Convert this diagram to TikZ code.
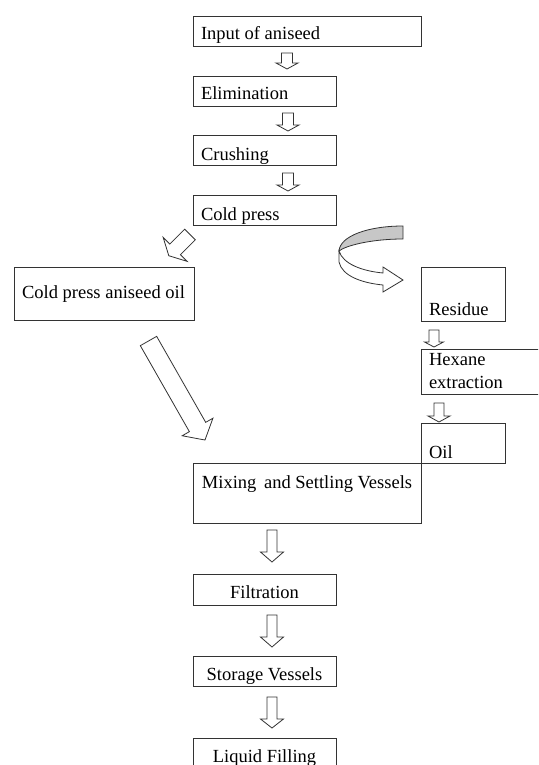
\documentclass[tikz,border=0pt]{standalone}
\usepackage{fontspec}
\setmainfont{Liberation Serif}
\begin{document}
\begin{tikzpicture}[x=1pt,y=-1pt,
  box/.style={draw=black!80, line width=0.9pt, rectangle, anchor=north west, inner sep=0pt, outer sep=0pt},
  txt/.style={font=\fontsize{18.5}{22}\selectfont, inner sep=0pt, outer sep=0pt},
  blk/.style={draw=black!80, line width=0.8pt, fill=white, line join=miter},
  pics/barrow/.style n args={4}{code={
    \draw[blk] (-#1,0) -- (-#1,#3) -- (-#2,#3) -- (0,#4) -- (#2,#3) -- (#1,#3) -- (#1,0) -- cycle;}}
]
\useasboundingbox (0,0) rectangle (538,765);
\clip (0,0) rectangle (538,765);

% main column boxes
\node[box, minimum width=228pt, minimum height=30pt] (input) at (193,16) {};
\node[txt, anchor=base west] (tinput) at (201,40) {Input of aniseed};
\node[box, minimum width=143pt, minimum height=30pt] (elim) at (193,76) {};
\node[txt, anchor=base west] (telim) at (201,100) {Elimination};
\node[box, minimum width=143pt, minimum height=30pt] (crush) at (193,135) {};
\node[txt, anchor=base west] (tcrush) at (201,160) {Crushing};
\node[box, minimum width=143pt, minimum height=30pt] (cold) at (193,195) {};
\node[txt, anchor=base west] (tcold) at (201,220) {Cold press};

% left branch
\node[box, minimum width=180pt, minimum height=53pt] (coldoil) at (14,267) {};
\node[txt, anchor=base] (tcoldoil) at (103.5,298) {Cold press aniseed oil};

% right branch
\node[box, minimum width=84pt, minimum height=54pt] (residue) at (421,267) {};
\node[txt, anchor=base west] (tresidue) at (429,315) {Residue};
\node[box, minimum width=125pt, minimum height=45pt] (hexane) at (421,349) {};
\node[txt, anchor=base west] (thexane) at (429,365) {Hexane};
\node[txt, anchor=base west] (textr) at (429,388) {extraction};
\node[box, minimum width=84pt, minimum height=40pt] (oil) at (421,423) {};
\node[txt, anchor=base west] (toil) at (429,458) {Oil};

% lower column
\node[box, minimum width=228pt, minimum height=60pt] (mix) at (193,463) {};
\node[txt, anchor=base] (tmix) at (307,488) {Mixing\, and Settling Vessels};
\node[box, minimum width=143pt, minimum height=31pt] (filt) at (193,574) {};
\node[txt, anchor=base] (tfilt) at (264.5,598) {Filtration};
\node[box, minimum width=143pt, minimum height=30pt] (store) at (193,656) {};
\node[txt, anchor=base] (tstore) at (264.5,680) {Storage Vessels};
\node[box, minimum width=143pt, minimum height=40pt] (fill) at (193,738) {};
\node[txt, anchor=base] (tfill) at (264.5,762) {Liquid Filling};

% small block arrows
\pic at (287,53) {barrow={5.5}{11}{10}{16}};
\pic at (288,113) {barrow={5.5}{11}{12}{18}};
\pic at (288,173) {barrow={5.5}{11}{12}{18}};
\pic at (434,330) {barrow={5}{9.5}{12}{17}};
\pic at (439,403) {barrow={5}{11}{13}{19}};

% larger block arrows
\pic at (272,530) {barrow={5}{11.5}{22}{32}};
\pic at (272,615) {barrow={5}{11.5}{22}{32}};
\pic at (272,697) {barrow={5}{11.5}{22}{31}};

% diagonal arrows
\pic[rotate=-45] at (190,234.5) {barrow={7.5}{17}{21}{30}};
\pic[rotate=29.7] at (148.5,341) {barrow={9.4}{17.7}{99}{114}};

% curved arrow
\draw[blk] (339,251) -- (339,262) .. controls (342,276) and (362,283) .. (383,285)
  -- (383,292) -- (403,280) -- (383,267) -- (383,273)
  .. controls (362,271) and (343,264) .. (339,251) -- cycle;
\draw[blk, fill=black!22] (403,226) .. controls (368,226) and (340,236) .. (339,251)
  .. controls (345,246) and (370,239) .. (403,239) -- cycle;
\end{tikzpicture}
\end{document}
